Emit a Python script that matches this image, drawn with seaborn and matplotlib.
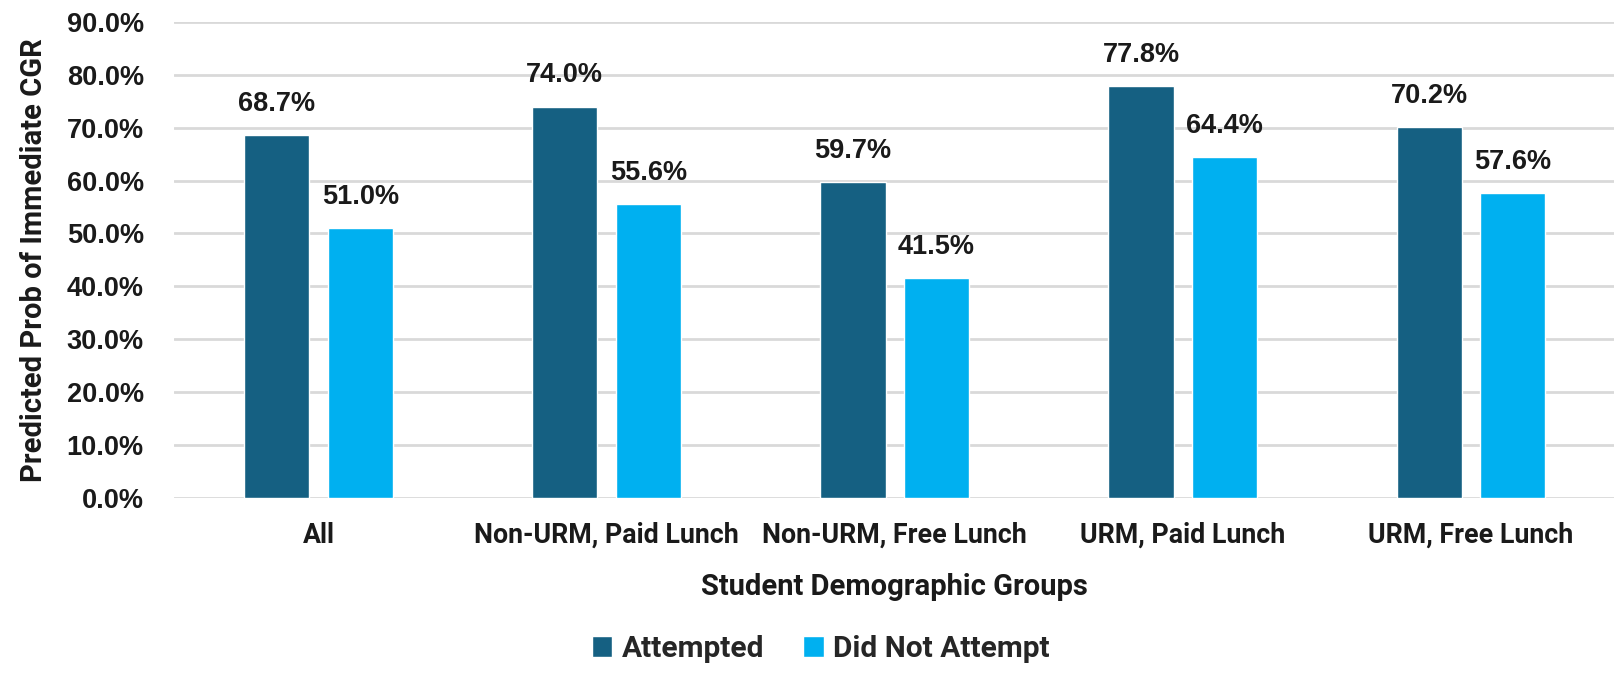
import pandas as pd
import matplotlib.pyplot as plt
import seaborn as sns
from matplotlib.ticker import FuncFormatter

groups = ['All', 'Non-URM, Paid Lunch', 'Non-URM, Free Lunch', 'URM, Paid Lunch', 'URM, Free Lunch']
attempted = [68.7, 74.0, 59.7, 77.8, 70.2]
not_attempted = [51.0, 55.6, 41.5, 64.4, 57.6]
series = ['Attempted', 'Did Not Attempt']
colors = ['#156082', '#00B0F0']

df = pd.DataFrame({
    'group': groups * 2,
    'status': [series[0]] * len(groups) + [series[1]] * len(groups),
    'value': attempted + not_attempted,
})

sns.set_theme(style="white")
num_font = 'Liberation Sans'
txt_font = 'Roboto'

fig = plt.figure(figsize=(16.15, 6.84), dpi=100)
ax = fig.add_axes([0.108, 0.272, 0.892, 0.696])

sns.barplot(data=df, x='group', y='value', hue='status', palette=colors,
            width=0.58, gap=0.22, saturation=1, ax=ax)

for cont in ax.containers:
    ax.bar_label(cont, labels=[f"{v:.1f}%" for v in cont.datavalues], padding=13,
                 fontsize=19.5, fontweight='bold', family=num_font, color='#1a1a1a')

ax.set_ylim(0, 90)
ax.set_yticks(range(0, 91, 10))
ax.yaxis.set_major_formatter(FuncFormatter(lambda x, p: f"{x:.1f}%"))
ax.grid(axis='y', color='#d9d9d9', linewidth=2)
ax.set_axisbelow(True)
for s in ax.spines.values():
    s.set_visible(False)

ax.tick_params(axis='y', length=0, pad=22)
ax.tick_params(axis='x', length=0, pad=17)
for t in ax.get_yticklabels():
    t.set_fontsize(19.5)
    t.set_fontweight('bold')
    t.set_family(num_font)
    t.set_color('#1a1a1a')
for t in ax.get_xticklabels():
    t.set_fontsize(19.3)
    t.set_fontweight('bold')
    t.set_family(txt_font)
    t.set_color('#1a1a1a')

ax.set_xlabel('Student Demographic Groups', fontsize=21, fontweight='bold', family=txt_font, color='#1a1a1a')
ax.set_ylabel('Predicted Prob of Immediate CGR', fontsize=21, fontweight='bold', family=txt_font, color='#1a1a1a')
ax.xaxis.set_label_coords(0.5, -0.157)
ax.yaxis.set_label_coords(-0.088, 0.5)

handles, labels = ax.get_legend_handles_labels()
ax.legend_.remove()
fig.legend(handles, labels, loc='center', bbox_to_anchor=(0.508, 0.051), ncol=2, frameon=False,
           prop={'family': txt_font, 'weight': 'bold', 'size': 21.5},
           handlelength=0.7, handleheight=0.7, handletextpad=0.3, columnspacing=1.3)

plt.savefig('out.png', dpi=100)
